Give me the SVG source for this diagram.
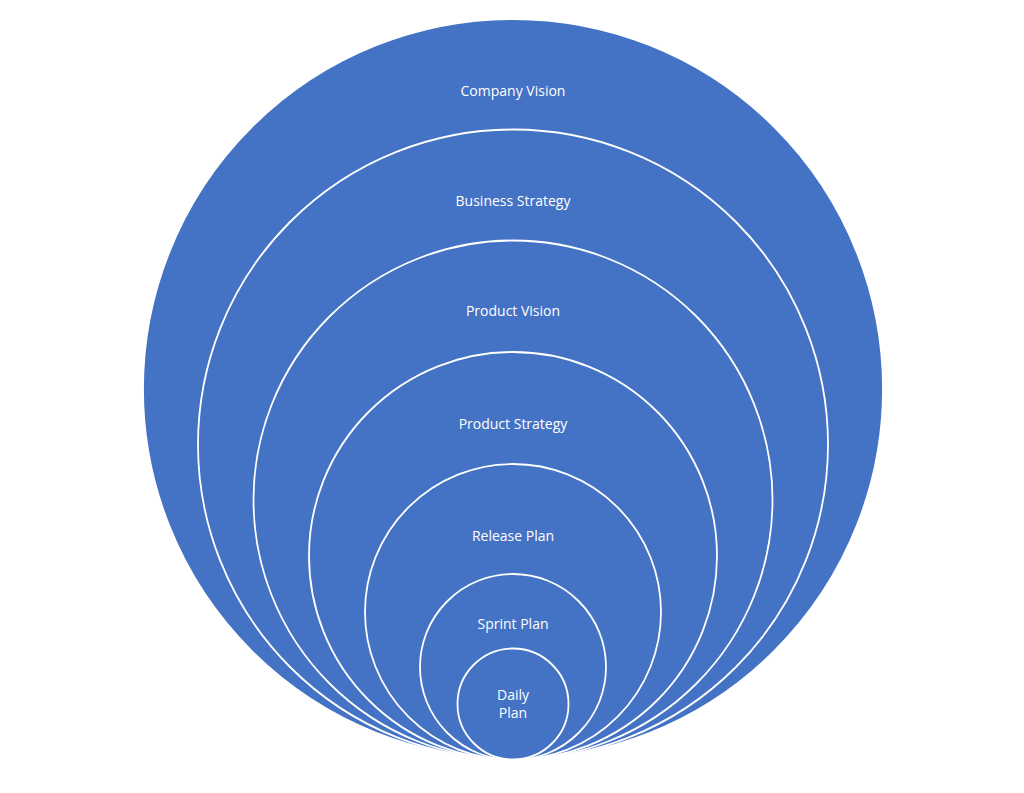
<svg xmlns="http://www.w3.org/2000/svg" width="1024" height="793" viewBox="0 0 1024 793">
<style>
.c{fill:#4472C4;stroke:#FFFFFF;stroke-width:1.8}
.t{fill:#FFFFFF;font-family:"Open Sans","Liberation Sans",sans-serif;font-size:14px;text-anchor:middle;dominant-baseline:central}
</style>
<rect width="1024" height="793" fill="#FFFFFF"/>
<g id="company-vision"><circle class="c" cx="513" cy="389" r="370"/><text class="t" x="513" y="90">Company Vision</text></g>
<g id="business-strategy"><circle class="c" cx="513" cy="444.5" r="315"/><text class="t" x="513" y="200">Business Strategy</text></g>
<g id="product-vision"><circle class="c" cx="513" cy="500" r="259.5"/><text class="t" x="513" y="310">Product Vision</text></g>
<g id="product-strategy"><circle class="c" cx="513" cy="556" r="204"/><text class="t" x="513" y="423">Product Strategy</text></g>
<g id="release-plan"><circle class="c" cx="513" cy="612" r="148"/><text class="t" x="513" y="535">Release Plan</text></g>
<g id="sprint-plan"><circle class="c" cx="513" cy="667" r="93"/><text class="t" x="513" y="623">Sprint Plan</text></g>
<g id="daily-plan"><circle class="c" cx="513" cy="704" r="55.5"/><text class="t" x="513" y="694">Daily</text><text class="t" x="513" y="712">Plan</text></g>
<g id="connectors"/>
</svg>
